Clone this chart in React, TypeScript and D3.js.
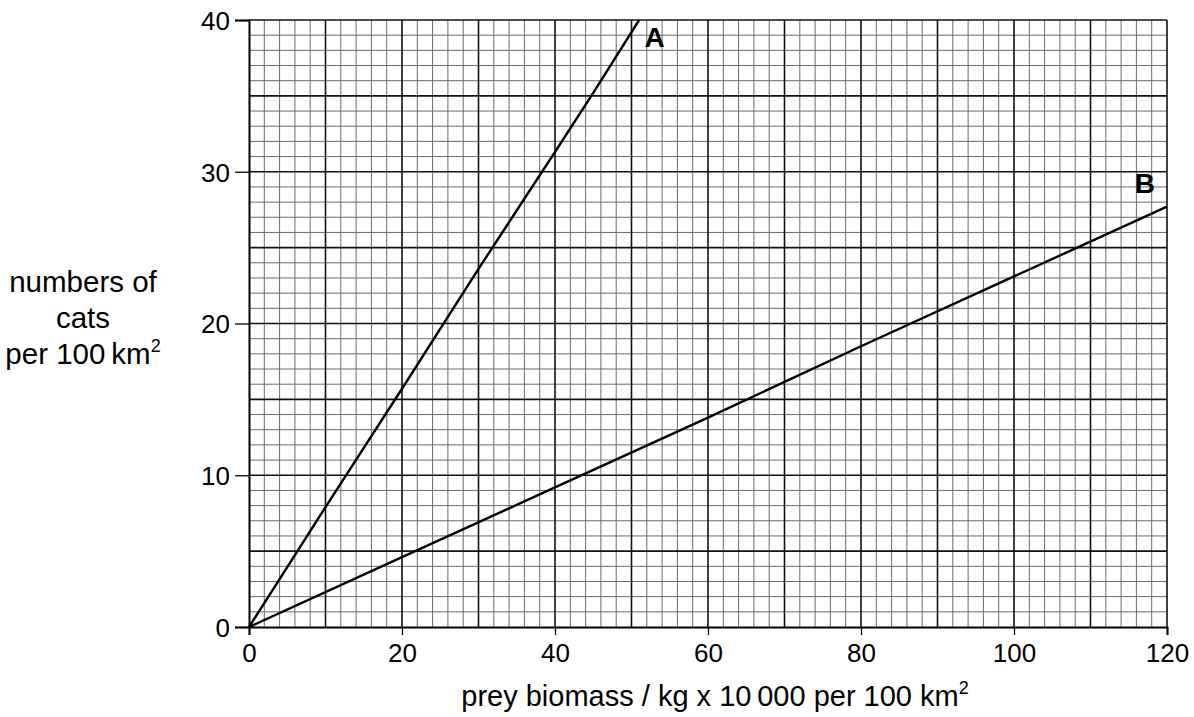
import { useEffect, useRef } from "react"
import * as d3 from "d3"

// readings off the graph paper
const lineAX = [0, 10, 20, 30, 40, 45, 51]
const lineAY = [0, 7.9, 15.7, 23.6, 31.3, 35.2, 40]
const lineBX = [0, 20, 40, 60, 80, 100, 120]
const lineBY = [0, 4.6, 9.2, 13.8, 18.5, 23.1, 27.7]

const xTicks = [0, 20, 40, 60, 80, 100, 120]
const yTicks = [0, 10, 20, 30, 40]
const yTitle = ["numbers of", "cats", "per 100\u2009km"]
const xTitle = "prey biomass / kg x 10\u2009000 per 100 km"

const W = 1194
const H = 717
const FONT = "'Liberation Sans', Arial, sans-serif"

export default function App() {
  const ref = useRef<SVGSVGElement>(null)

  useEffect(() => {
    const svg = d3.select(ref.current)
    svg.selectAll("*").remove()

    const x = d3.scaleLinear().domain([0, 120]).range([249, 1167])
    const y = d3.scaleLinear().domain([0, 40]).range([627, 20])

    const grid = svg.append("g")

    // minor grid
    grid
      .selectAll(".vminor")
      .data(d3.range(0, 121, 2).filter((v) => v % 10 !== 0))
      .join("line")
      .attr("x1", (d) => x(d))
      .attr("x2", (d) => x(d))
      .attr("y1", y(40))
      .attr("y2", y(0))
      .attr("stroke", "#6a6a6a")
      .attr("stroke-width", 1)
    grid
      .selectAll(".hminor")
      .data(d3.range(0, 41, 1).filter((v) => v % 5 !== 0))
      .join("line")
      .attr("x1", x(0))
      .attr("x2", x(120))
      .attr("y1", (d) => y(d))
      .attr("y2", (d) => y(d))
      .attr("stroke", "#6a6a6a")
      .attr("stroke-width", 1)

    // major grid
    grid
      .selectAll(".vmajor")
      .data(d3.range(10, 121, 10))
      .join("line")
      .attr("x1", (d) => x(d))
      .attr("x2", (d) => x(d))
      .attr("y1", y(40))
      .attr("y2", y(0))
      .attr("stroke", "#111")
      .attr("stroke-width", 1.6)
    grid
      .selectAll(".hmajor")
      .data(d3.range(5, 41, 5))
      .join("line")
      .attr("x1", x(0))
      .attr("x2", x(120))
      .attr("y1", (d) => y(d))
      .attr("y2", (d) => y(d))
      .attr("stroke", "#111")
      .attr("stroke-width", 1.6)

    // axes
    const yAxis = d3
      .axisLeft(y)
      .tickValues(yTicks)
      .tickSize(14)
      .tickFormat(d3.format("d"))
    const gy = svg
      .append("g")
      .attr("transform", `translate(${x(0)},0)`)
      .call(yAxis)
    const xAxis = d3
      .axisBottom(x)
      .tickValues(xTicks)
      .tickSize(8)
      .tickFormat(d3.format("d"))
    const gx = svg
      .append("g")
      .attr("transform", `translate(0,${y(0)})`)
      .call(xAxis)
    for (const g of [gx, gy]) {
      g.select(".domain").attr("stroke", "#000").attr("stroke-width", 2)
      g.selectAll(".tick line").attr("stroke", "#000").attr("stroke-width", 1.3)
      g.selectAll(".tick text")
        .attr("fill", "#000")
        .style("font-family", FONT)
        .style("font-size", "26px")
    }
    gy.selectAll(".tick text").attr("x", -19).attr("dy", "0.36em")
    gx.selectAll(".tick text").attr("y", 35).attr("dy", 0)

    // data lines
    const line = d3
      .line<[number, number]>()
      .x((d) => x(d[0]))
      .y((d) => y(d[1]))
    const series = [
      { name: "A", pts: lineAX.map((v, i) => [v, lineAY[i]] as [number, number]) },
      { name: "B", pts: lineBX.map((v, i) => [v, lineBY[i]] as [number, number]) },
    ]
    svg
      .selectAll(".series")
      .data(series)
      .join("path")
      .attr("d", (d) => line(d.pts))
      .attr("fill", "none")
      .attr("stroke", "#000")
      .attr("stroke-width", 2.4)

    // series labels
    svg
      .append("text")
      .attr("x", x(51.7))
      .attr("y", y(38.2))
      .text("A")
      .style("font-family", FONT)
      .style("font-weight", "bold")
      .style("font-size", "28px")
    svg
      .append("text")
      .attr("x", x(115.8))
      .attr("y", y(28.6))
      .text("B")
      .style("font-family", FONT)
      .style("font-weight", "bold")
      .style("font-size", "28px")

    // axis titles
    const yt = svg
      .append("text")
      .attr("text-anchor", "middle")
      .style("font-family", FONT)
      .style("font-size", "29.5px")
    yTitle.forEach((t, i) => {
      const ts = yt
        .append("tspan")
        .attr("x", 83)
        .attr("y", 292 + i * 36)
        .text(t)
      if (i === yTitle.length - 1) {
        ts.append("tspan").attr("dy", -12).style("font-size", "18px").text("2")
      }
    })
    const xt = svg
      .append("text")
      .attr("x", 715)
      .attr("y", 706)
      .attr("text-anchor", "middle")
      .style("font-family", FONT)
      .style("font-size", "29px")
      .text(xTitle)
    xt.append("tspan").attr("dy", -12).style("font-size", "18px").text("2")
  }, [])

  return (
    <svg
      ref={ref}
      width={W}
      height={H}
      style={{ position: "absolute", left: 0, top: 0, background: "#fff" }}
    />
  )
}
